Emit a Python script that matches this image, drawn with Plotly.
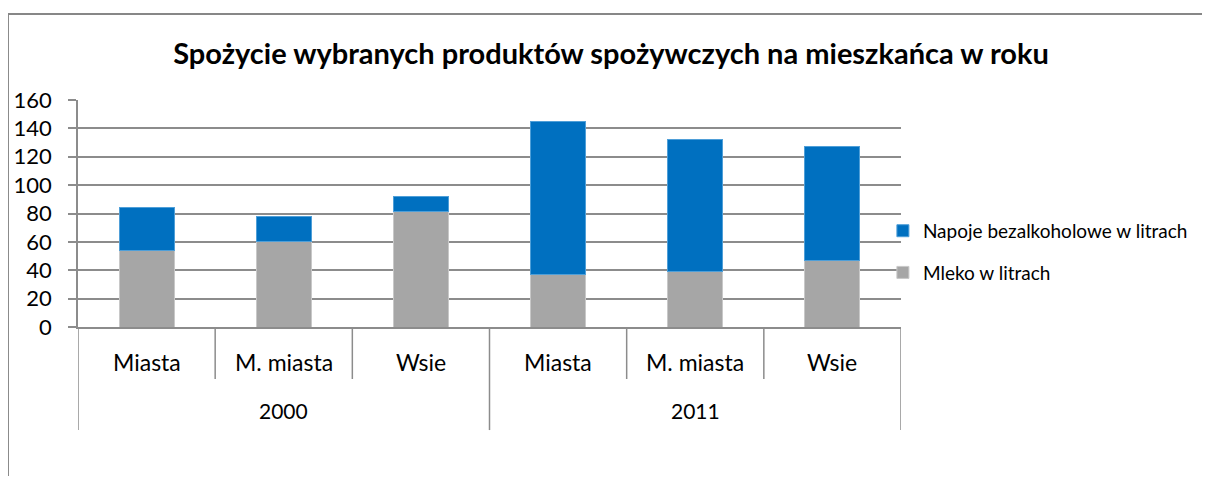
import plotly.graph_objects as go

years = ["2000", "2000", "2000", "2011", "2011", "2011"]
places = ["Miasta", "M. miasta", "Wsie", "Miasta", "M. miasta", "Wsie"]
mleko = [53.6, 60.0, 81.1, 37.1, 38.8, 47.0]
napoje = [30.5, 17.8, 10.8, 107.9, 93.5, 80.1]
series_names = ["Mleko w litrach", "Napoje bezalkoholowe w litrach"]
title = "Spożycie wybranych produktów spożywczych na mieszkańca w roku"
y_ticks = [0, 20, 40, 60, 80, 100, 120, 140, 160]

FONT = "Lato"
GRID = "#8c8c8c"
W, H = 1194, 468

fig = go.Figure()
fig.add_trace(go.Bar(x=[years, places], y=mleko, name=series_names[0],
                     marker=dict(color="#A6A6A6", line=dict(color="#c8c8c8", width=1)),
                     width=0.4, legendgroup="a", legendrank=2))
fig.add_trace(go.Bar(x=[years, places], y=napoje, name=series_names[1],
                     marker=dict(color="#0070C0", line=dict(color="#4f9fd8", width=1)),
                     width=0.4, legendgroup="b", legendrank=1))

shapes = []
annotations = []
n = len(places)
# inner category labels and separators
for i in range(n):
    annotations.append(dict(x=i, y=-0.154, xref="x", yref="paper", text=places[i],
                            showarrow=False, font=dict(family=FONT, size=23, color="#000"),
                            xanchor="center", yanchor="middle"))
for i in range(n + 1):
    outer = (i == 0 or i == n or years[i] != years[i - 1])
    shapes.append(dict(type="line", xref="x", yref="paper", x0=i - 0.5, x1=i - 0.5,
                       y0=0, y1=-0.454 if outer else -0.229,
                       line=dict(color=GRID, width=1.5)))
# outer labels
groups = []
for i, yv in enumerate(years):
    if not groups or groups[-1][0] != yv:
        groups.append([yv, i, i])
    else:
        groups[-1][2] = i
for yv, a, b in groups:
    annotations.append(dict(x=(a + b) / 2, y=-0.370, xref="x", yref="paper", text=yv,
                            showarrow=False, font=dict(family=FONT, size=21, color="#000"),
                            xanchor="center", yanchor="middle"))

# chart border (top and left edges visible)
top = (327 - 14) / 227
left = -0.0851
shapes.append(dict(type="line", xref="paper", yref="paper", x0=left, x1=1.6,
                   y0=top, y1=top, line=dict(color="#878787", width=2), layer="below"))
shapes.append(dict(type="line", xref="paper", yref="paper", x0=left, x1=left,
                   y0=-1.0, y1=top, line=dict(color="#878787", width=2), layer="below"))

fig.update_layout(
    width=W, height=H,
    margin=dict(l=70, r=W - 893, t=92, b=H - 319, autoexpand=False),
    paper_bgcolor="white", plot_bgcolor="white",
    barmode="stack", bargap=0.6,
    title=dict(text="<b>" + title + "</b>", x=(611 - 8) / W, xanchor="center",
               y=1 - 46 / H, yanchor="middle",
               font=dict(family=FONT, size=29, color="#000")),
    font=dict(family=FONT, color="#000"),
    legend=dict(x=0.978, y=0.331, xanchor="left", yanchor="middle",
                traceorder="grouped", tracegroupgap=14,
                font=dict(family=FONT, size=19, color="#000"),
                bgcolor="rgba(0,0,0,0)"),
    shapes=shapes, annotations=annotations,
)
fig.update_xaxes(showticklabels=False, showgrid=False, showline=True, linecolor=GRID,
                 linewidth=1.5, ticks="", showdividers=False, range=[-0.5, n - 0.5])
fig.update_yaxes(range=[0, 160], tickvals=y_ticks, showgrid=True, gridcolor=GRID,
                 gridwidth=1.5, showline=True, linecolor=GRID, linewidth=1.5,
                 ticks="outside", ticklen=8, tickcolor=GRID, tickwidth=1.5,
                 ticklabelstandoff=12, zeroline=False,
                 tickfont=dict(family=FONT, size=22, color="#000"))

fig.write_html("out.html")
